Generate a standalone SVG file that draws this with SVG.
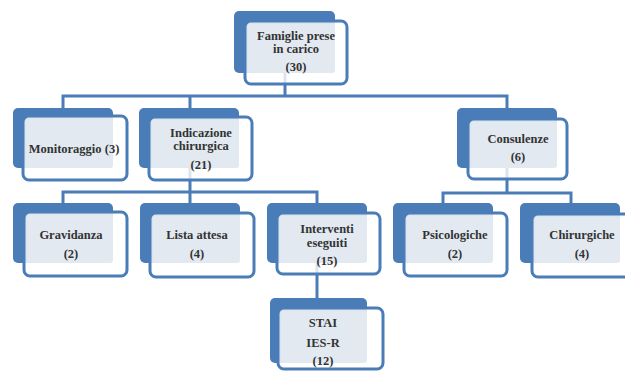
<svg xmlns="http://www.w3.org/2000/svg" width="625" height="371" viewBox="0 0 625 371">
<style>
.bk{fill:#4a7db8}
.fr{fill:#fff;fill-opacity:.8;stroke:#4a7db8;stroke-width:3}
.lt{fill:#e2e9f1}
.cn{fill:none;stroke:#4a7db8;stroke-width:3}
text{font-family:"Liberation Serif","Times New Roman",serif;font-weight:bold;font-size:12.5px;fill:#333;text-anchor:middle}
</style>
<rect width="625" height="371" fill="#fff"/>
<g id="connectors">
<path class="cn" d="M285 73V96M63 108V96H507V108M190 96V108"/>
<path class="cn" d="M190 168V192M63 203V192H317V203M190 192V203"/>
<path class="cn" d="M317 263V298"/>
<path class="cn" d="M507 168V193M443 203V193H571V203"/>
</g>
<g id="famiglie">
<rect class="bk" x="234" y="11" width="101" height="62" rx="5"/>
<rect class="fr" x="245" y="21" width="102" height="63" rx="6"/>
<rect class="lt" x="248" y="24" width="87" height="49" rx="3"/>
<text x="296" y="40">Famiglie prese</text>
<text x="296" y="53">in carico</text>
<text x="296" y="71">(30)</text>
</g>
<g id="monitoraggio">
<rect class="bk" x="13" y="108" width="100" height="60" rx="5"/>
<rect class="fr" x="23" y="116" width="104" height="64" rx="6"/>
<rect class="lt" x="26" y="119" width="87" height="49" rx="3"/>
<text x="74" y="153">Monitoraggio (3)</text>
</g>
<g id="indicazione">
<rect class="bk" x="139" y="108" width="100" height="60" rx="5"/>
<rect class="fr" x="149" y="117" width="103" height="63" rx="6"/>
<rect class="lt" x="152" y="120" width="87" height="48" rx="3"/>
<text x="201" y="137">Indicazione</text>
<text x="201" y="150">chirurgica</text>
<text x="201" y="169">(21)</text>
</g>
<g id="consulenze">
<rect class="bk" x="457" y="108" width="100" height="60" rx="5"/>
<rect class="fr" x="468" y="119" width="99" height="60" rx="6"/>
<rect class="lt" x="471" y="122" width="86" height="46" rx="3"/>
<text x="518" y="143">Consulenze</text>
<text x="518" y="161">(6)</text>
</g>
<g id="gravidanza">
<rect class="bk" x="13" y="203" width="100" height="60" rx="5"/>
<rect class="fr" x="24" y="212" width="103" height="64" rx="6"/>
<rect class="lt" x="27" y="215" width="86" height="48" rx="3"/>
<text x="71" y="239">Gravidanza</text>
<text x="71" y="258">(2)</text>
</g>
<g id="lista">
<rect class="bk" x="140" y="203" width="100" height="60" rx="5"/>
<rect class="fr" x="150" y="213" width="104" height="64" rx="6"/>
<rect class="lt" x="153" y="216" width="87" height="47" rx="3"/>
<text x="197" y="239">Lista attesa</text>
<text x="197" y="258">(4)</text>
</g>
<g id="interventi">
<rect class="bk" x="267" y="203" width="100" height="60" rx="5"/>
<rect class="fr" x="277" y="213" width="103" height="61" rx="6"/>
<rect class="lt" x="280" y="216" width="87" height="47" rx="3"/>
<text x="327" y="233">Interventi</text>
<text x="327" y="247">eseguiti</text>
<text x="327" y="265">(15)</text>
</g>
<g id="stai">
<rect class="bk" x="270" y="298" width="97" height="65" rx="5"/>
<rect class="fr" x="278" y="308" width="105" height="61" rx="6"/>
<rect class="lt" x="281" y="311" width="86" height="52" rx="3"/>
<text x="323" y="327">STAI</text>
<text x="323" y="347">IES-R</text>
<text x="323" y="365">(12)</text>
</g>
<g id="psicologiche">
<rect class="bk" x="393" y="203" width="100" height="60" rx="5"/>
<rect class="fr" x="404" y="213" width="103" height="63" rx="6"/>
<rect class="lt" x="407" y="216" width="86" height="47" rx="3"/>
<text x="455" y="239">Psicologiche</text>
<text x="455" y="258">(2)</text>
</g>
<g id="chirurgiche">
<rect class="bk" x="520" y="203" width="100" height="60" rx="5"/>
<rect class="fr" x="532" y="214" width="103" height="63" rx="6"/>
<rect class="lt" x="535" y="217" width="85" height="46" rx="3"/>
<text x="582" y="239">Chirurgiche</text>
<text x="582" y="258">(4)</text>
</g>
</svg>
